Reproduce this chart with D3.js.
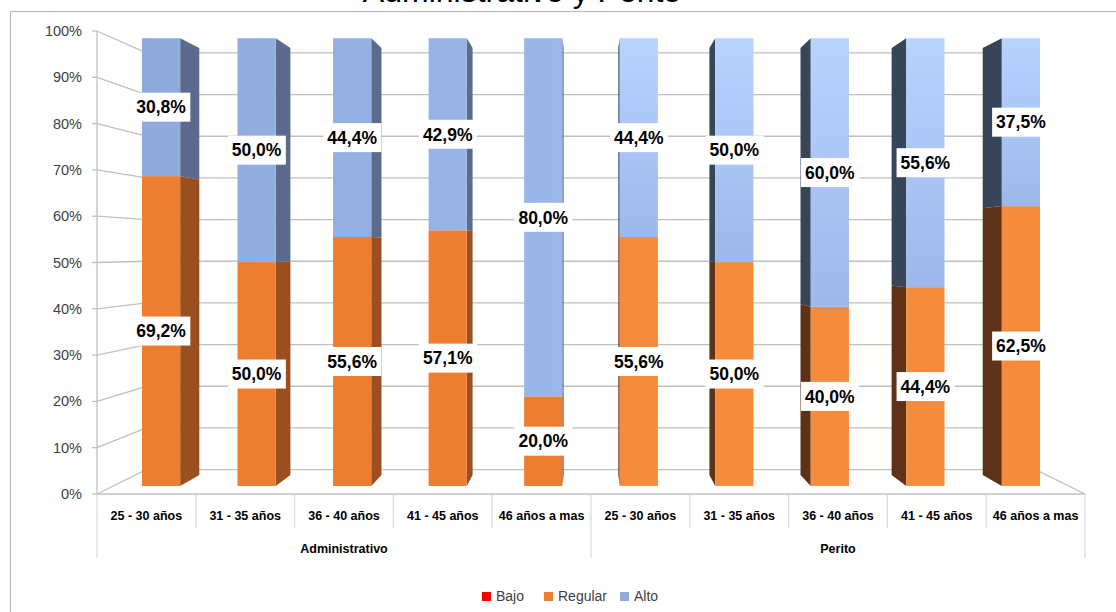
<!DOCTYPE html>
<html>
<head>
<meta charset="utf-8">
<script src="https://cdn.jsdelivr.net/npm/d3@7"></script>
<style>
  body { margin: 0; background: #fff; }
  svg { display: block; font-family: "Liberation Sans", Arial, sans-serif; }
</style>
</head>
<body>
<svg id="chart" width="1116" height="612"></svg>
<script>
// data (percent per group / age band)
var groups = ['Administrativo', 'Perito'];
var ages = ['25 - 30 años', '31 - 35 años', '36 - 40 años', '41 - 45 años', '46 años a mas'];
var bajo = [0, 0, 0, 0, 0, 0, 0, 0, 0, 0];
var regular = [69.2, 50.0, 55.6, 57.1, 20.0, 55.6, 50.0, 40.0, 44.4, 62.5];
var alto = [30.8, 50.0, 44.4, 42.9, 80.0, 44.4, 50.0, 60.0, 55.6, 37.5];
var yTicks = [0, 10, 20, 30, 40, 50, 60, 70, 80, 90, 100];
var seriesNames = ['Bajo', 'Regular', 'Alto'];
var legendColors = ['#ff0000', '#ed7d31', '#8faadc'];

var svg = d3.select('#chart');

var keys = [];
groups.forEach(function (g) {
  ages.forEach(function (a) { keys.push(g + '|' + a); });
});

// front plane scales, then a simple perspective toward a vanishing point
var x = d3.scaleBand().domain(keys).range([97, 1085]);
var y = d3.scaleLinear().domain([0, 100]).range([494, 31]);
var vx = 591, vy = 250;
var sWall = 0.9, sFront = 0.967, sBack = 0.922;

function proj(px, py, s) {
  return [vx + s * (px - vx), vy + s * (py - vy)];
}

var defs = svg.append('defs');
// Perito blue gets lighter toward the top
var grad = defs.append('linearGradient').attr('id', 'peritoAlto')
  .attr('x1', 0).attr('y1', 0).attr('x2', 0).attr('y2', 1);
grad.append('stop').attr('offset', '0%').attr('stop-color', '#b9d3ff');
grad.append('stop').attr('offset', '100%').attr('stop-color', '#9db8ea');
// Administrativo blue lightens a bit from left to right
var gradA = defs.append('linearGradient').attr('id', 'adminAlto')
  .attr('gradientUnits', 'userSpaceOnUse').attr('x1', 140).attr('y1', 0).attr('x2', 565).attr('y2', 0);
gradA.append('stop').attr('offset', '0%').attr('stop-color', '#8ea9db');
gradA.append('stop').attr('offset', '100%').attr('stop-color', '#9bb7e8');

// chart frame
svg.append('rect').attr('x', 10.5).attr('y', 11.5).attr('width', 1200).attr('height', 700)
  .attr('fill', 'none').attr('stroke', '#bcbcbc').attr('stroke-width', 1.2);

// title (mostly cut off by the top edge, as in the source)
svg.append('text').attr('x', 522).attr('y', 2).attr('text-anchor', 'middle')
  .style('font-size', '32px').attr('fill', '#000').text('Administrativo y Perito');

var grid = svg.append('g').attr('stroke', '#c0c0c0').attr('stroke-width', 1.3).attr('fill', 'none');
var wallL = proj(97, 0, sWall)[0], wallR = proj(1085, 0, sWall)[0];

yTicks.forEach(function (t) {
  var yb = proj(97, y(t), sWall)[1];
  // back wall line
  grid.append('line').attr('x1', wallL).attr('x2', wallR).attr('y1', yb).attr('y2', yb);
  // side wall diagonal
  grid.append('line').attr('x1', 97).attr('y1', y(t)).attr('x2', wallL).attr('y2', yb);
  // tick
  grid.append('line').attr('x1', 92).attr('x2', 97).attr('y1', y(t)).attr('y2', y(t));
});
// floor right diagonal and front edge
grid.append('line').attr('x1', 1085).attr('y1', y(0)).attr('x2', wallR).attr('y2', proj(1085, y(0), sWall)[1]);
grid.append('line').attr('x1', 97).attr('x2', 1085).attr('y1', y(0)).attr('y2', y(0));
// vertical axis
grid.append('line').attr('x1', 97).attr('x2', 97).attr('y1', y(100)).attr('y2', y(0));

// y tick labels
svg.append('g').selectAll('text').data(yTicks).join('text')
  .attr('x', 82).attr('y', function (d) { return y(d); }).attr('dy', '0.35em')
  .attr('text-anchor', 'end').style('font-size', '14.5px').attr('fill', '#404040')
  .text(function (d) { return d + '%'; });

// stacked segments
var stackData = keys.map(function (k, i) {
  return { key: k, g: k.split('|')[0], Bajo: bajo[i], Regular: regular[i], Alto: alto[i] };
});
var stacked = d3.stack().keys(seriesNames)(stackData);

var fronts = {
  Administrativo: { Bajo: '#ff0000', Regular: '#ed7d31', Alto: 'url(#adminAlto)' },
  Perito: { Bajo: '#ff0000', Regular: '#f68b3c', Alto: 'url(#peritoAlto)' }
};
var sides = {
  Administrativo: { Bajo: '#a00000', Regular: '#9b4e1f', Alto: '#5b6b8d' },
  Perito: { Bajo: '#600000', Regular: '#5d3216', Alto: '#374559' }
};

var bw = x.bandwidth() * 0.4;
var bars = svg.append('g');
var labels = [];

keys.forEach(function (k, i) {
  var xl = x(k) + (x.bandwidth() - bw) / 2, xr = xl + bw;
  var g = stackData[i].g;
  var useRight = (xl + xr) / 2 < vx;
  var xe = useRight ? xr : xl;
  stacked.forEach(function (layer) {
    var d = layer[i];
    if (d[1] - d[0] <= 0) return;
    var y0 = y(d[0]), y1 = y(d[1]);
    var side = [proj(xe, y0, sFront), proj(xe, y1, sFront), proj(xe, y1, sBack), proj(xe, y0, sBack)];
    bars.append('polygon').attr('points', side.map(function (p) { return p.join(','); }).join(' '))
      .attr('fill', sides[g][layer.key]);
    var a = proj(xl, y1, sFront), b = proj(xr, y0, sFront);
    bars.append('rect').attr('x', a[0]).attr('y', a[1]).attr('width', b[0] - a[0]).attr('height', b[1] - a[1])
      .attr('fill', fronts[g][layer.key]);
    labels.push({
      x: (a[0] + b[0]) / 2, y: (a[1] + b[1]) / 2,
      t: d3.format('.1f')(d[1] - d[0]).replace('.', ',') + '%'
    });
  });
});

// data labels with white boxes
var lg = svg.append('g');
labels.forEach(function (l) {
  var gg = lg.append('g');
  var box = gg.append('rect').attr('fill', '#fff');
  var tx = gg.append('text').attr('x', l.x).attr('y', l.y).attr('dy', '0.36em')
    .attr('text-anchor', 'middle').style('font-size', '17.5px').style('font-weight', 'bold')
    .attr('fill', '#000').text(l.t);
  var bb = tx.node().getBBox();
  box.attr('x', bb.x - 4).attr('y', l.y - 14.5).attr('width', bb.width + 8).attr('height', 29);
});

// category axis table
var cat = svg.append('g');
keys.forEach(function (k, i) {
  var x0 = x(k);
  var isGroupEdge = i % ages.length === 0;
  cat.append('line').attr('x1', x0).attr('x2', x0).attr('y1', y(0)).attr('y2', isGroupEdge ? 558 : 528)
    .attr('stroke', '#d9d9d9').attr('stroke-width', 1.2);
  cat.append('text').attr('x', x0 + x.bandwidth() / 2).attr('y', 516).attr('dy', '0.35em')
    .attr('text-anchor', 'middle').style('font-size', '12.5px').style('font-weight', 'bold')
    .attr('fill', '#000').text(k.split('|')[1]);
});
cat.append('line').attr('x1', 1085).attr('x2', 1085).attr('y1', y(0)).attr('y2', 558)
  .attr('stroke', '#d9d9d9').attr('stroke-width', 1.2);
groups.forEach(function (g) {
  var first = x(g + '|' + ages[0]), last = x(g + '|' + ages[ages.length - 1]) + x.bandwidth();
  cat.append('text').attr('x', (first + last) / 2).attr('y', 549).attr('dy', '0.35em')
    .attr('text-anchor', 'middle').style('font-size', '12.5px').style('font-weight', 'bold')
    .attr('fill', '#000').text(g);
});

// legend
var legend = svg.append('g');
var lx = [482, 544, 620];
seriesNames.forEach(function (n, i) {
  legend.append('rect').attr('x', lx[i]).attr('y', 592).attr('width', 9).attr('height', 9).attr('fill', legendColors[i]);
  legend.append('text').attr('x', lx[i] + 14).attr('y', 596.5).attr('dy', '0.35em')
    .style('font-size', '14px').attr('fill', '#404040').text(n);
});
</script>
</body>
</html>
